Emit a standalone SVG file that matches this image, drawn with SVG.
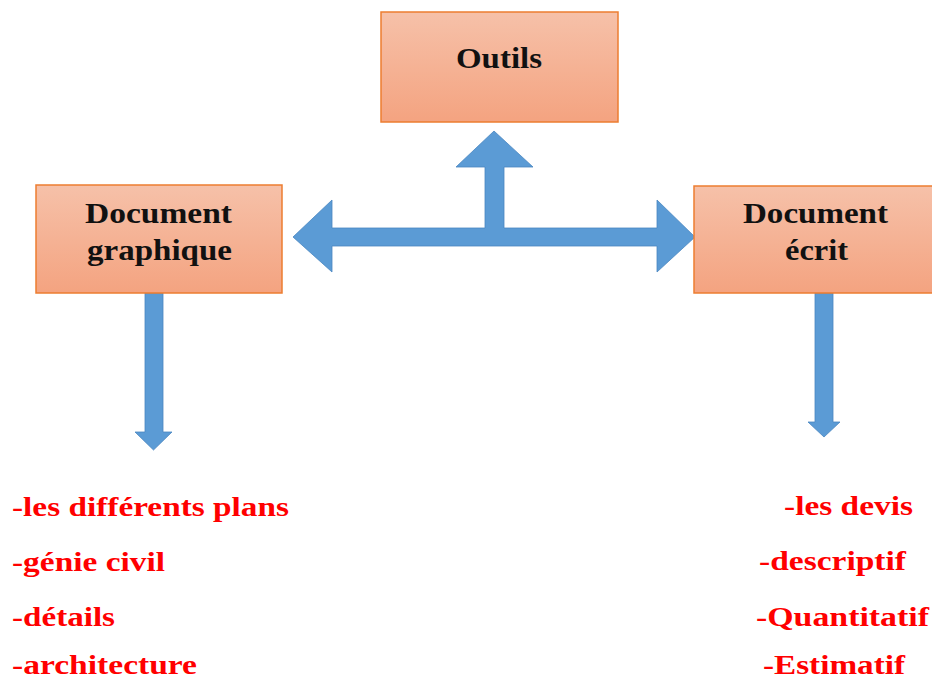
<svg xmlns="http://www.w3.org/2000/svg" width="932" height="681" viewBox="0 0 932 681">
<defs>
<linearGradient id="boxg" x1="0" y1="0" x2="0" y2="1">
<stop offset="0" stop-color="#f6c1a9"/>
<stop offset="1" stop-color="#f4a380"/>
</linearGradient>
<style>
.box{fill:url(#boxg);stroke:#ed7d31;stroke-width:1.5}
.bt{font-family:"Liberation Serif","Times New Roman",Times,serif;font-weight:bold;font-size:29px;fill:#111}
.rt{font-family:"Liberation Serif","Times New Roman",Times,serif;font-weight:bold;font-size:28px;fill:#ff0000}
.arr{fill:#5b9bd5;stroke:#4a86c0;stroke-width:0.8}
</style>
</defs>
<rect width="932" height="681" fill="#fff"/>
<g id="connectors">
<path class="arr" d="M293,237 L332,200 L332,228 L485,228 L485,167 L456,167 L494,131 L533,167 L504,167 L504,228 L657,228 L657,200 L695,237 L657,272 L657,246 L332,246 L332,272 Z"/>
<path class="arr" d="M145,293 L163,293 L163,432 L172,432 L153.5,450 L135,432 L145,432 Z"/>
<path class="arr" d="M815,293 L833,293 L833,422 L840,422 L824,437 L808,422 L815,422 Z"/>
</g>
<g id="outils">
<rect class="box" x="381" y="12" width="237" height="110"/>
<text class="bt" x="456" y="68" textLength="86" lengthAdjust="spacingAndGlyphs">Outils</text>
</g>
<g id="doc-graphique">
<rect class="box" x="36" y="185" width="246" height="108"/>
<text class="bt" x="85" y="223" textLength="147" lengthAdjust="spacingAndGlyphs">Document</text>
<text class="bt" x="87" y="260" textLength="145" lengthAdjust="spacingAndGlyphs">graphique</text>
</g>
<g id="doc-ecrit">
<rect class="box" x="694" y="186" width="240" height="107"/>
<text class="bt" x="743" y="223" textLength="145" lengthAdjust="spacingAndGlyphs">Document</text>
<text class="bt" x="785" y="260" textLength="63" lengthAdjust="spacingAndGlyphs">écrit</text>
</g>
<g id="list-graphique">
<text class="rt" x="12" y="516" textLength="277" lengthAdjust="spacingAndGlyphs">-les différents plans</text>
<text class="rt" x="12" y="571" textLength="153" lengthAdjust="spacingAndGlyphs">-génie civil</text>
<text class="rt" x="12" y="626" textLength="103" lengthAdjust="spacingAndGlyphs">-détails</text>
<text class="rt" x="12" y="674" textLength="185" lengthAdjust="spacingAndGlyphs">-architecture</text>
</g>
<g id="list-ecrit">
<text class="rt" x="784" y="515" textLength="129" lengthAdjust="spacingAndGlyphs">-les devis</text>
<text class="rt" x="759" y="570" textLength="147" lengthAdjust="spacingAndGlyphs">-descriptif</text>
<text class="rt" x="756" y="626" textLength="173" lengthAdjust="spacingAndGlyphs">-Quantitatif</text>
<text class="rt" x="763" y="674" textLength="142" lengthAdjust="spacingAndGlyphs">-Estimatif</text>
</g>
</svg>
